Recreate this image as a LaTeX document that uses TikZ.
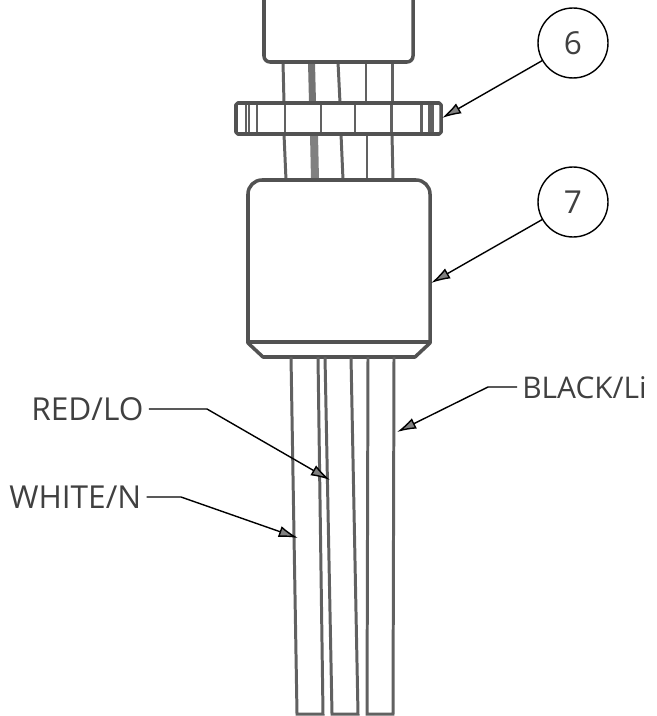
\documentclass[tikz,border=0pt]{standalone}
\usepackage{fontspec}
\setmainfont{Open Sans}
\usetikzlibrary{arrows.meta}
\def\upperbody{(264,0) -- (264,56) to[out=-90,in=180] (270,62) -- (407,62) to[out=0,in=-90] (413,56) -- (413,0)}
\def\lowerbody{(248,343) -- (248,194) to[out=90,in=180] (262,180) -- (416,180) to[out=0,in=90] (430,194) -- (430,343) -- (415,357) -- (263,357) -- cycle}
\def\bandoutline{(236,103) rectangle (441,134)}
\tikzset{
	outline/.style={draw=black!68,line width=2pt,line join=round},
	strand/.style={draw=black!62,line width=1.7pt},
	callout/.style={draw=black,line width=.8pt,-{Latex[length=11pt,width=6.5pt,fill=black!50]}},
	bubble/.style={circle,draw=black,line width=.8pt,minimum size=1.4cm,inner sep=0pt,text=black!75,font=\fontsize{18}{18}\selectfont},
	wirelabel/.style={anchor=west,inner sep=0pt,outer sep=3pt,text height=13pt,text depth=0pt,text=black!75,font=\fontsize{18}{18}\selectfont},
}

\begin{document}
\begin{tikzpicture}[x=.02cm,y=-.02cm]
			\useasboundingbox (0,0) rectangle (656,716);
			% wires between the two bodies
			\begin{scope}
				\draw[strand] (283,62) -- (284,103);
				\fill[black!55] (308,62) -- (315,62) -- (316,103) -- (309,103) -- cycle;
				\draw[strand] (338,62) -- (340,103);
				\draw[strand] (366,62) -- (366,103);
				\draw[strand] (392,62) -- (392,103);
				\draw[strand] (284,134) -- (286,180);
				\fill[black!50] (310,134) -- (318,134) -- (319,180) -- (311,180) -- cycle;
				\draw[strand] (341,134) -- (343,180);
				\draw[strand] (367,134) -- (367,180);
				\draw[strand] (392,134) -- (393,180);
			\end{scope}
			% band
			\begin{scope}
				\draw[strand] (246,103) -- (246,134);
				\draw[strand] (249,103) -- (249,134);
				\draw[strand] (257,103) -- (257,134);
				\draw[strand] (285,103) -- (285,134);
				\draw[strand] (321,103) -- (321,134);
				\draw[strand] (355,103) -- (355,134);
				\draw[strand] (391,103) -- (391,134);
				\draw[strand] (421,103) -- (421,134);
				\draw[strand] (429,103) -- (429,134);
				\draw[strand] (432,103) -- (432,134);
				\draw[outline,rounded corners=1pt] \bandoutline;
			\end{scope}
			\draw[outline] \upperbody;
			\draw[outline] \lowerbody;
			\draw[outline] (248,342) -- (430,342);
			% three lower leads
			\draw[strand] (291,357) -- (297,714) -- (323,714) -- (318,357);
			\draw[strand] (325,357) -- (332,714) -- (358,714) -- (351,357);
			\draw[strand] (368,357) -- (367,714) -- (393,714) -- (394,357);
			% callouts
			\node[bubble] (six) at (573,43) {6};
			\node[bubble] (seven) at (573,202) {7};
			\coordinate (sixtip) at (442,118);
			\coordinate (seventip) at (431,283);
			\draw[callout] (six) -- (sixtip);
			\draw[callout] (seven) -- (seventip);
			\node[wirelabel] (redlabel) at (26,409) {RED/LO};
			\node[wirelabel] (whitelabel) at (4,497) {WHITE/N};
			\node[wirelabel,anchor=east,font=\fontsize{17}{17}\selectfont] (blacklabel) at (652,387) {BLACK/Li};
			\coordinate (redknee) at (207,409);
			\coordinate (redtip) at (330,480);
			\coordinate (whiteknee) at (181,497);
			\coordinate (whitetip) at (298,538);
			\coordinate (blackknee) at (488,387);
			\coordinate (blacktip) at (397,432);
			\draw[callout] (redlabel.east) -- (redknee) -- (redtip);
			\draw[callout] (whitelabel.east) -- (whiteknee) -- (whitetip);
			\draw[callout] (blacklabel.west) -- (blackknee) -- (blacktip);
		\end{tikzpicture}
\end{document}
